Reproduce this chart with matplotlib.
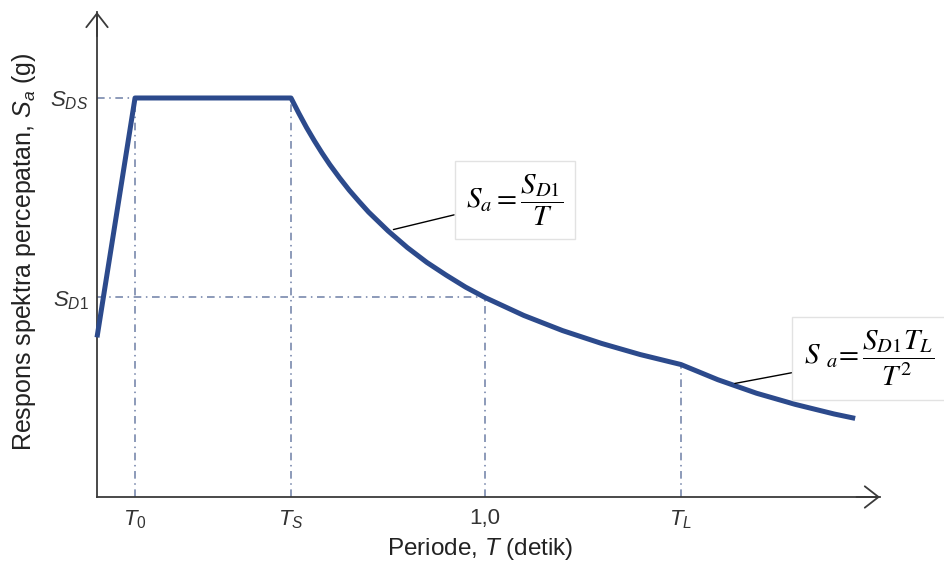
"""Design response spectrum sketch (Sa vs T) with annotated branches."""

import matplotlib
matplotlib.use("Agg")
import matplotlib.pyplot as plt

# spectrum points (T in s, Sa normalised so S_DS = 1)
T_points = [0.0, 0.098, 0.5, 0.52, 0.54, 0.56, 0.58, 0.6, 0.625, 0.65, 0.675,
            0.7, 0.75, 0.8, 0.85, 0.9, 0.95, 1.0, 1.1, 1.2, 1.3, 1.4, 1.505,
            1.6, 1.7, 1.8, 1.9, 1.954]
Sa_points = [0.4, 1.0, 1.0, 0.962, 0.926, 0.893, 0.862, 0.833, 0.8, 0.769, 0.741,
             0.714, 0.667, 0.625, 0.588, 0.556, 0.526, 0.5, 0.455, 0.417, 0.385,
             0.357, 0.332, 0.294, 0.26, 0.232, 0.208, 0.197]

# characteristic values
T0, TS, T1, TL = 0.098, 0.5, 1.0, 1.505
SDS, SD1, Sa_TL = 1.0, 0.5, 0.332

x_ticks = [T0, TS, T1, TL]
x_labels = ["$T_0$", "$T_S$", "1,0", "$T_L$"]
y_ticks = [SD1, SDS]
y_labels = ["$S_{D1}$", "$S_{DS}$"]

plt.rcParams["font.family"] = ["Liberation Sans", "DejaVu Sans"]
plt.rcParams["mathtext.fontset"] = "custom"
plt.rcParams["mathtext.rm"] = "Liberation Sans"
plt.rcParams["mathtext.it"] = "Liberation Sans:italic"

curve_color = "#2c4a8c"
guide_color = "#6d7fa6"
axis_color = "#3a3a3a"

fig = plt.figure(figsize=(9.44, 5.65), dpi=100)
ax = fig.add_axes([97 / 944, 68 / 565, 783 / 944, 485 / 565])
ax.set_xlim(0, 2.018)
ax.set_ylim(0, 1.2155)

for side in ("top", "right"):
    ax.spines[side].set_visible(False)
for side in ("left", "bottom"):
    ax.spines[side].set_color(axis_color)
    ax.spines[side].set_linewidth(1.3)

# open arrowheads on both axes
head = dict(arrowstyle="->,head_length=0.45,head_width=0.35", lw=1.3,
            color=axis_color, mutation_scale=22, shrinkA=0, shrinkB=0)
ax.annotate("", xy=(1, 0), xytext=(0.97, 0), xycoords="axes fraction",
            arrowprops=head, annotation_clip=False)
ax.annotate("", xy=(0, 1), xytext=(0, 0.95), xycoords="axes fraction",
            arrowprops=head, annotation_clip=False)

# dash-dot guide lines
dd = dict(color=guide_color, lw=1.1, ls=(0, (5, 3, 1, 3)), zorder=1)
ax.plot([T0, T0], [0, SDS], **dd)
ax.plot([TS, TS], [0, SDS], **dd)
ax.plot([T1, T1], [0, SD1], **dd)
ax.plot([TL, TL], [0, Sa_TL], **dd)
ax.plot([0, T0], [SDS, SDS], **dd)
ax.plot([0, T1], [SD1, SD1], **dd)

ax.plot(T_points, Sa_points, color=curve_color, lw=3.6,
        solid_joinstyle="round", solid_capstyle="butt", zorder=3, clip_on=False)

ax.set_xticks(x_ticks)
ax.set_xticklabels(x_labels, fontsize=16, color="#333333")
ax.set_yticks(y_ticks)
ax.set_yticklabels(y_labels, fontsize=16, color="#333333")
ax.tick_params(axis="x", length=0, pad=8)
ax.tick_params(axis="y", length=0, pad=6)

ax.set_xlabel("Periode, $T$ (detik)", fontsize=17.5, color="#222222")
ax.xaxis.set_label_coords(0.489, -0.08)
ax.set_ylabel("Respons spektra percepatan, $S_a$ (g)", fontsize=18, color="#222222")
ax.yaxis.set_label_coords(-0.075, 0.505)

box = dict(boxstyle="square,pad=0.4", fc="white", ec="#e2e2e2", lw=1.0)
leader = dict(arrowstyle="-", color="black", lw=1.0, shrinkA=0, shrinkB=4)
ax.annotate(r"$S_a = \dfrac{S_{D1}}{T}$", xy=(0.75, 0.667), xytext=(1.077, 0.744),
            fontsize=21, math_fontfamily="stix", ha="center", va="center",
            bbox=box, arrowprops=leader, zorder=4)
ax.annotate(r"$S\ {}_a\!= \dfrac{S_{D1}T_L}{T^2}$", xy=(1.63, 0.282), xytext=(1.99, 0.348),
            fontsize=21, math_fontfamily="stix", ha="center", va="center",
            bbox=box, arrowprops=leader, zorder=4, annotation_clip=False)

fig.savefig("out.png", dpi=100)
